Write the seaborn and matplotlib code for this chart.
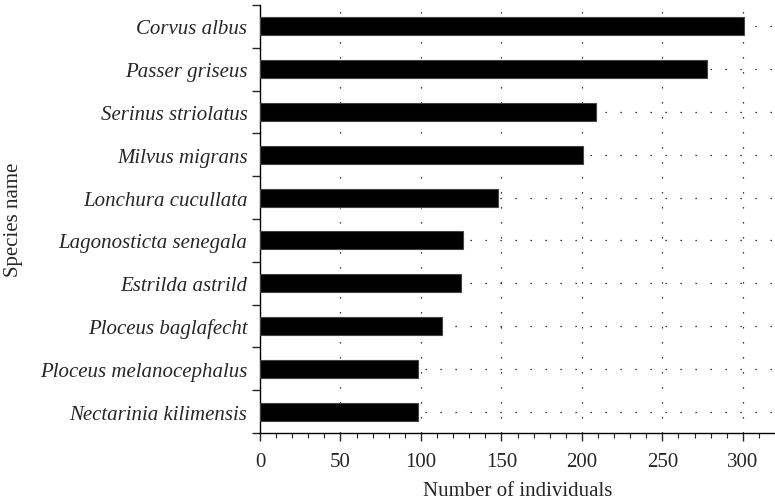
import seaborn as sns
import matplotlib.pyplot as plt
from matplotlib.ticker import MultipleLocator, FixedLocator

species = ['Corvus albus', 'Passer griseus', 'Serinus striolatus', 'Milvus migrans',
           'Lonchura cucullata', 'Lagonosticta senegala', 'Estrilda astrild',
           'Ploceus baglafecht', 'Ploceus melanocephalus', 'Nectarinia kilimensis']
individuals = [301, 278, 209, 201, 148, 126, 125, 113, 98, 98]
x_ticks = [0, 50, 100, 150, 200, 250, 300]

sns.set_style('ticks')
plt.rcParams['font.family'] = ['Liberation Serif', 'DejaVu Serif']

fig = plt.figure(figsize=(7.75, 5.02), dpi=100)
ax = fig.add_axes([260/775, 1 - 434/502, 515/775, 428/502])

sns.barplot(x=individuals, y=species, orient='h', color='black', width=0.42,
            edgecolor='#444444', linewidth=0.8, ax=ax, zorder=3)

ax.set_xlim(0, 320)
ax.set_ylim(9.5, -0.5)
ax.set_xticks(x_ticks)
ax.xaxis.set_minor_locator(MultipleLocator(10))
ax.yaxis.set_minor_locator(FixedLocator([i - 0.5 for i in range(len(species) + 1)]))

ax.tick_params(axis='x', which='major', length=6, width=1, direction='out', labelsize=15, pad=8)
ax.tick_params(axis='x', which='minor', length=3.5, width=0.8, direction='out')
ax.tick_params(axis='y', which='major', length=0, labelsize=15, pad=9)
ax.tick_params(axis='y', which='minor', length=6, width=1, direction='out')
for lab in ax.get_yticklabels():
    lab.set_style('italic')

ax.grid(True, axis='both', which='major', color='black', linewidth=0.9,
        linestyle=(0, (1, 11)), zorder=0)
ax.set_axisbelow(True)

sns.despine(ax=ax)
ax.spines['left'].set_linewidth(1)
ax.spines['bottom'].set_linewidth(1)
ax.spines['left'].set_color('black')
ax.spines['bottom'].set_color('black')

ax.set_xlabel('Number of individuals', fontsize=15, labelpad=7)
ax.set_ylabel('Species name', fontsize=15, labelpad=12)

fig.savefig('out.png', dpi=100)
